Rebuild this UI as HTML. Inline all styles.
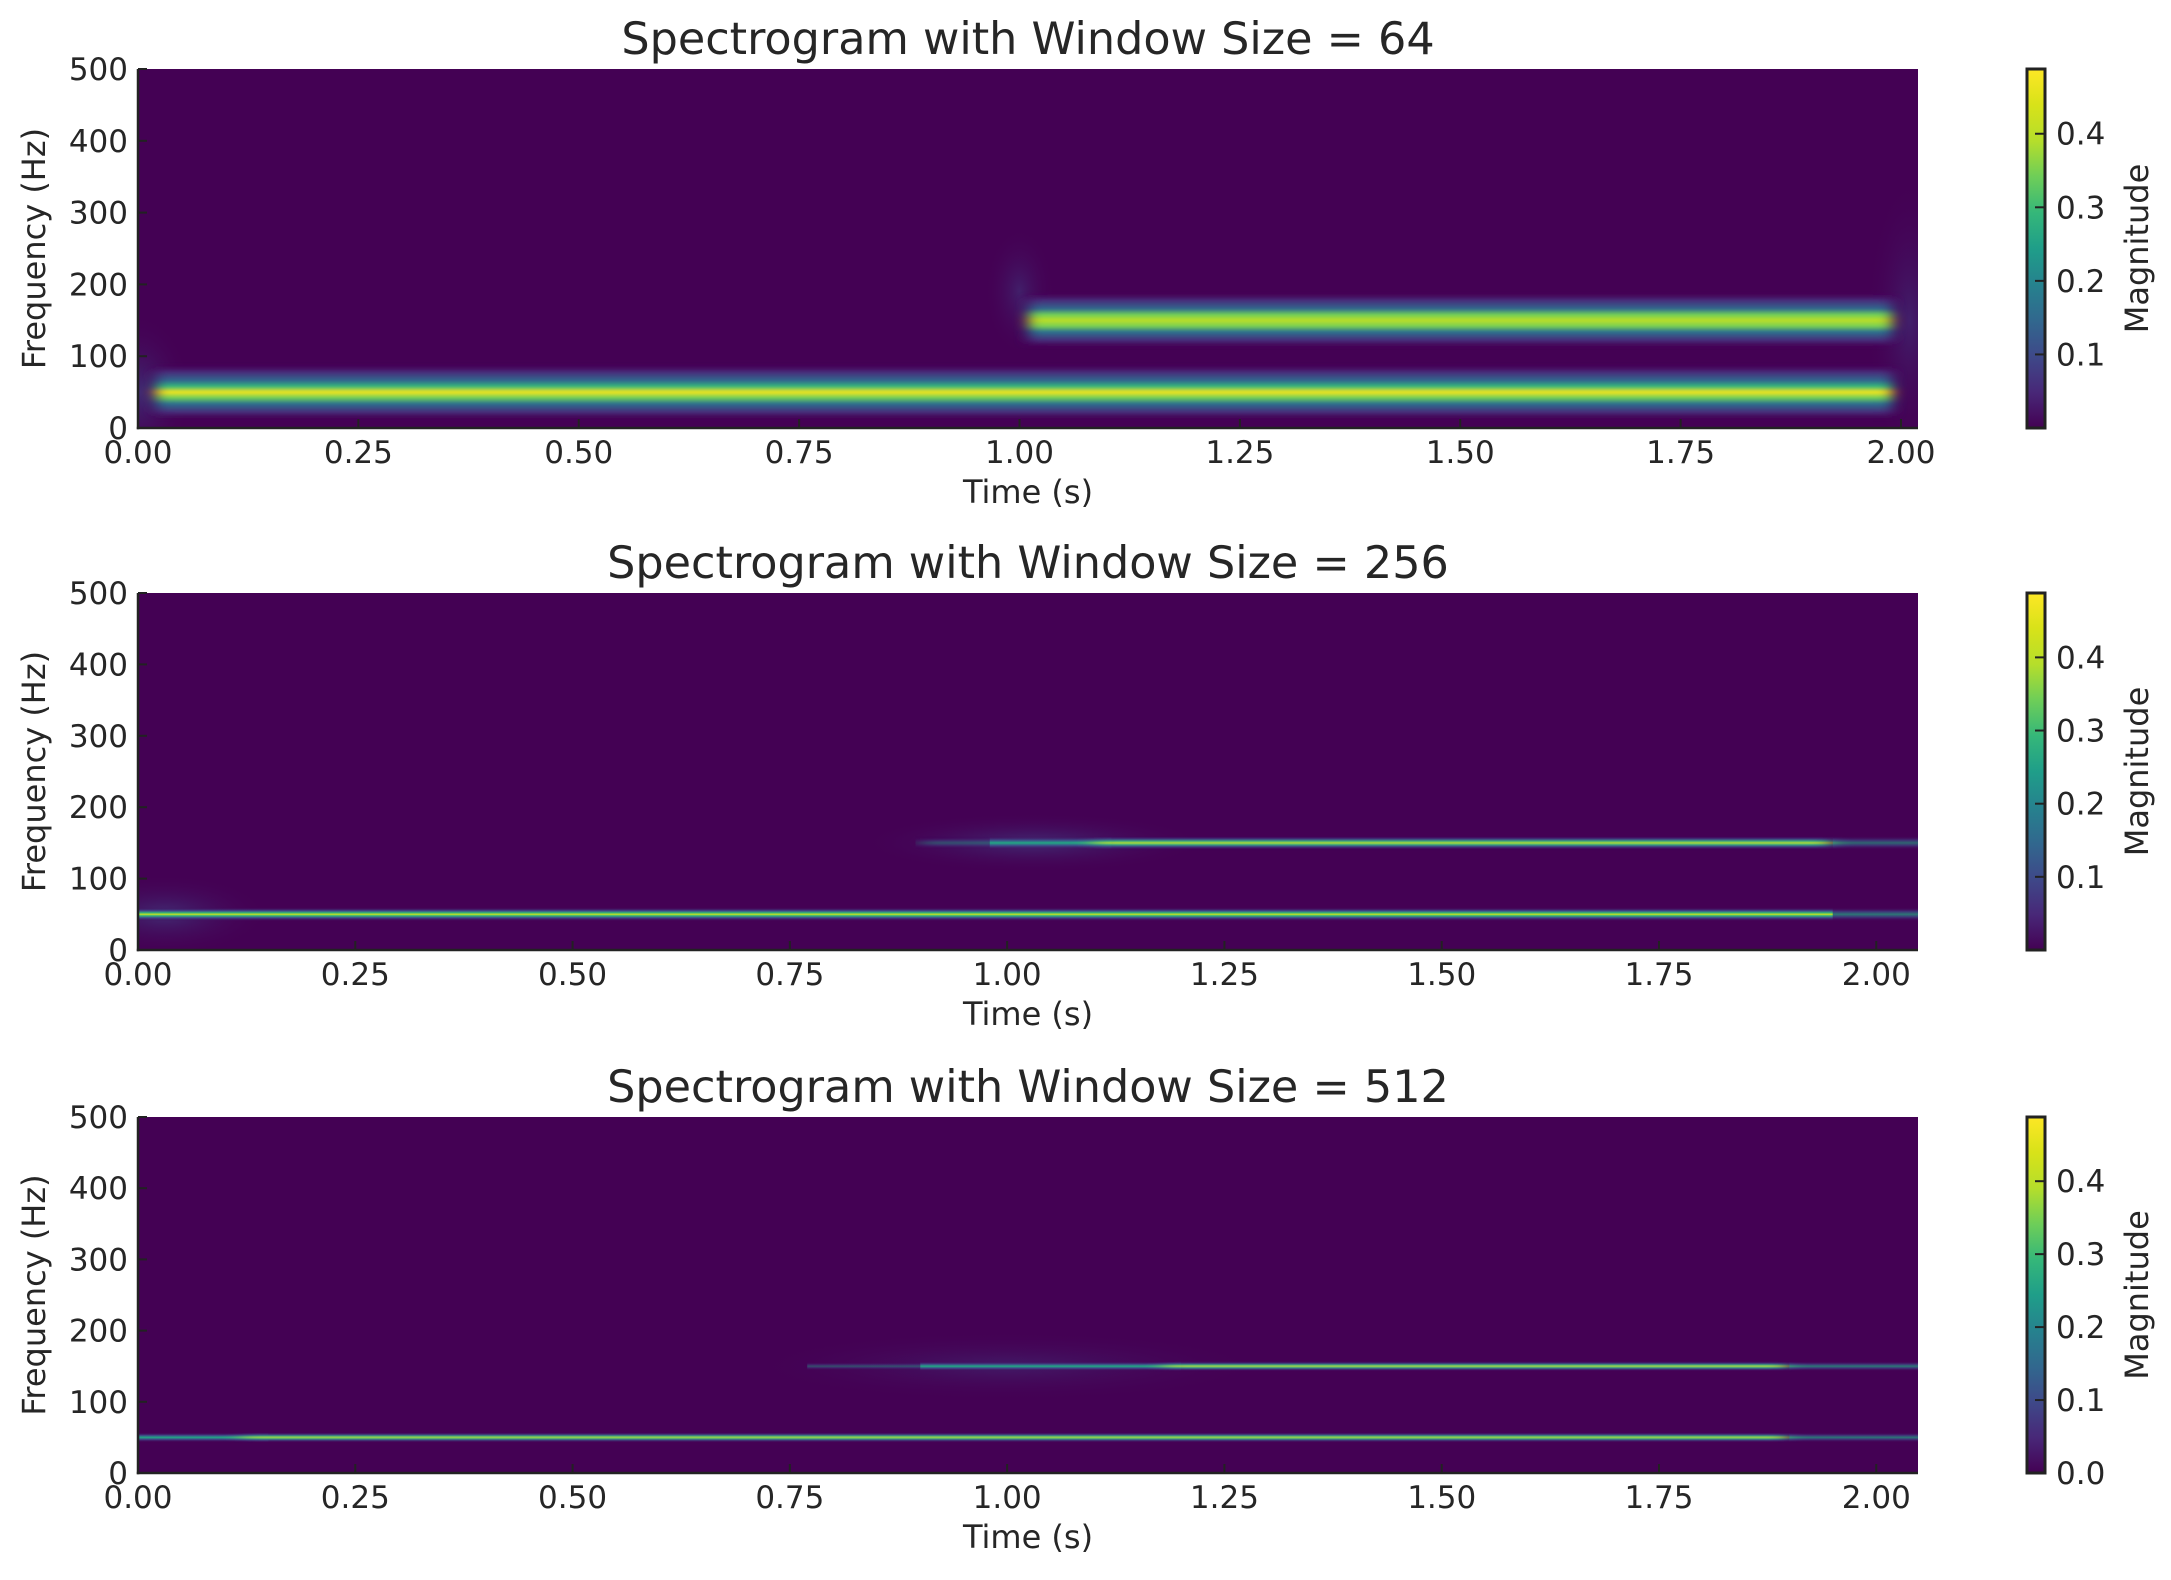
<!DOCTYPE html>
<html><head><meta charset="utf-8">
<style>
html,body{margin:0;padding:0;background:#fff;}
svg{display:block;}
text{font-family:"DejaVu Sans","Liberation Sans",sans-serif;fill:#262626;}
</style></head>
<body>
<svg id="s" width="2171" height="1580" viewBox="0 0 2171 1580" xmlns="http://www.w3.org/2000/svg">
<defs>
<linearGradient id="vir" x1="0" y1="1" x2="0" y2="0">
<stop offset="0" stop-color="#440154"/><stop offset="0.1" stop-color="#482878"/><stop offset="0.2" stop-color="#3e4989"/><stop offset="0.3" stop-color="#31688e"/><stop offset="0.4" stop-color="#26828e"/><stop offset="0.5" stop-color="#1f9e89"/><stop offset="0.6" stop-color="#35b779"/><stop offset="0.7" stop-color="#6ece58"/><stop offset="0.8" stop-color="#b5de2b"/><stop offset="0.9" stop-color="#d8e219"/><stop offset="1" stop-color="#fde725"/>
</linearGradient>
<linearGradient id="b1" x1="0" y1="0" x2="0" y2="1">
<stop offset="0" stop-color="#440154" stop-opacity="0"/><stop offset="0.15" stop-color="#472c7a"/><stop offset="0.3" stop-color="#31688e"/><stop offset="0.4" stop-color="#35b779"/><stop offset="0.5" stop-color="#f2e51d"/><stop offset="0.6" stop-color="#6ece58"/><stop offset="0.7" stop-color="#2c728e"/><stop offset="0.85" stop-color="#472c7a"/><stop offset="1" stop-color="#440154" stop-opacity="0"/>
</linearGradient>
<linearGradient id="b2" x1="0" y1="0" x2="0" y2="1">
<stop offset="0" stop-color="#440154" stop-opacity="0"/><stop offset="0.15" stop-color="#472c7a"/><stop offset="0.3" stop-color="#31688e"/><stop offset="0.4" stop-color="#6ece58"/><stop offset="0.5" stop-color="#bade28"/><stop offset="0.6" stop-color="#7ad151"/><stop offset="0.7" stop-color="#2c728e"/><stop offset="0.85" stop-color="#472c7a"/><stop offset="1" stop-color="#440154" stop-opacity="0"/>
</linearGradient>
<linearGradient id="thin" x1="0" y1="0" x2="0" y2="1">
<stop offset="0" stop-color="#440154" stop-opacity="0"/><stop offset="0.25" stop-color="#3e4989"/><stop offset="0.4" stop-color="#35b779"/><stop offset="0.5" stop-color="#c8e020"/><stop offset="0.6" stop-color="#35b779"/><stop offset="0.75" stop-color="#3e4989"/><stop offset="1" stop-color="#440154" stop-opacity="0"/>
</linearGradient>
<linearGradient id="thinT" x1="0" y1="0" x2="0" y2="1">
<stop offset="0" stop-color="#440154" stop-opacity="0"/><stop offset="0.3" stop-color="#3e4989"/><stop offset="0.5" stop-color="#22a884"/><stop offset="0.7" stop-color="#3e4989"/><stop offset="1" stop-color="#440154" stop-opacity="0"/>
</linearGradient>
<radialGradient id="glow" cx="0.5" cy="0.5" r="0.5">
<stop offset="0" stop-color="#3e4989" stop-opacity="0.6"/><stop offset="1" stop-color="#440154" stop-opacity="0"/>
</radialGradient>
<filter id="bl1" x="-5%" y="-50%" width="110%" height="200%"><feGaussianBlur stdDeviation="7 1"/></filter>
<filter id="bl2" x="-5%" y="-50%" width="110%" height="200%"><feGaussianBlur stdDeviation="10 0.5"/></filter>
<clipPath id="c1"><rect x="138" y="69" width="1780" height="359"/></clipPath>
<clipPath id="c2"><rect x="138" y="593" width="1780" height="357"/></clipPath>
<clipPath id="c3"><rect x="138" y="1117" width="1780" height="356"/></clipPath>
</defs>
<g id="root"></g>
</svg>
<script>
const root=document.getElementById('root');
let h='';
const L=138,R=1918,W=1780;
function panel(top,bot,xmax,title,zeroLbl,clip,content){
  const H=bot-top;
  const px=t=>L+t/xmax*W, py=f=>top+(500-f)/500*H;
  h+=`<rect x="${L}" y="${top}" width="${W}" height="${H}" fill="#440154"/>`;
  h+=`<g clip-path="url(#${clip})">${content(px,py)}</g>`;
  h+=`<line x1="${L}" y1="${top}" x2="${L}" y2="${bot+1.2}" stroke="#222" stroke-width="2.5"/>`;
  h+=`<line x1="${L-1.2}" y1="${bot}" x2="${R}" y2="${bot}" stroke="#222" stroke-width="2.5"/>`;
  for(let i=0;i<=8;i++){const t=i*0.25;const x=px(t);
    h+=`<line x1="${x}" y1="${bot}" x2="${x}" y2="${bot-9}" stroke="#222" stroke-width="2"/>`;
    h+=`<text x="${x}" y="${bot+35}" font-size="31" text-anchor="middle">${t.toFixed(2)}</text>`;}
  for(let f=0;f<=500;f+=100){const y=py(f);
    h+=`<line x1="${L}" y1="${y}" x2="${L+9}" y2="${y}" stroke="#222" stroke-width="2"/>`;
    h+=`<text x="${L-10}" y="${y+11}" font-size="31" text-anchor="end">${f}</text>`;}
  h+=`<text x="${(L+R)/2}" y="${bot+75}" font-size="32" text-anchor="middle">Time (s)</text>`;
  h+=`<text transform="translate(45 ${(top+bot)/2}) rotate(-90)" font-size="32" text-anchor="middle">Frequency (Hz)</text>`;
  h+=`<text x="${(L+R)/2}" y="${top-15}" font-size="44.5" text-anchor="middle" fill="#333">${title}</text>`;
  const cx=2027,cw=18;
  h+=`<rect x="${cx}" y="${top}" width="${cw}" height="${H}" fill="url(#vir)" stroke="#222" stroke-width="3"/>`;
  const vmax=0.488;
  const vals=zeroLbl?[0,0.1,0.2,0.3,0.4]:[0.1,0.2,0.3,0.4];
  for(const v of vals){const y=bot-v/vmax*H;
    if(v>0)h+=`<line x1="${cx+cw}" y1="${y}" x2="${cx+cw-10}" y2="${y}" stroke="#222" stroke-width="2"/>`;
    h+=`<text x="${cx+29}" y="${y+11}" font-size="31">${v.toFixed(1)}</text>`;}
  h+=`<text transform="translate(2148 ${(top+bot)/2}) rotate(-90)" font-size="32" text-anchor="middle">Magnitude</text>`;
}
panel(69,428,2.0193,'Spectrogram with Window Size = 64',false,'c1',(px,py)=>{
  let s='';
  s+=`<ellipse cx="${px(0)}" cy="${py(50)}" rx="${px(0.06)-px(0)}" ry="${py(0)-py(110)}" fill="url(#glow)"/>`;
  s+=`<ellipse cx="${px(1.0)}" cy="${py(190)}" rx="${px(0.04)-px(0)}" ry="${py(0)-py(90)}" fill="url(#glow)" opacity="0.7"/>`;
  s+=`<ellipse cx="${px(2.01)}" cy="${py(150)}" rx="${px(0.05)-px(0)}" ry="${py(0)-py(200)}" fill="url(#glow)" opacity="0.7"/>`;
  s+=`<rect x="${px(0.02)}" y="${py(90)}" width="${px(1.99)-px(0.02)}" height="${py(10)-py(90)}" fill="url(#b1)" filter="url(#bl1)"/>`;
  s+=`<rect x="${px(1.01)}" y="${py(190)}" width="${px(1.99)-px(1.01)}" height="${py(110)-py(190)}" fill="url(#b2)" filter="url(#bl1)"/>`;
  return s;});
panel(593,950,2.048,'Spectrogram with Window Size = 256',false,'c2',(px,py)=>{
  let s='';
  s+=`<ellipse cx="${px(1.03)}" cy="${py(150)}" rx="${px(0.2)-px(0)}" ry="30" fill="url(#glow)"/>`;
  s+=`<ellipse cx="${px(0.03)}" cy="${py(50)}" rx="${px(0.12)-px(0)}" ry="40" fill="url(#glow)"/>`;
  s+=`<rect x="${px(0)}" y="${py(50)-7}" width="${px(1.95)-px(0)}" height="14" fill="url(#thin)"/>`;
  s+=`<rect x="${px(1.95)}" y="${py(50)-7}" width="${px(2.05)-px(1.95)}" height="14" fill="url(#thinT)" opacity="0.7"/>`;
  s+=`<rect x="${px(0.9)}" y="${py(150)-6}" width="${px(1.0)-px(0.9)}" height="12" fill="url(#thinT)" opacity="0.45" filter="url(#bl2)"/>`;
  s+=`<rect x="${px(0.98)}" y="${py(150)-7}" width="${px(1.12)-px(0.98)}" height="14" fill="url(#thinT)"/>`;
  s+=`<rect x="${px(1.1)}" y="${py(150)-7}" width="${px(1.95)-px(1.1)}" height="14" fill="url(#thin)" filter="url(#bl2)"/>`;
  s+=`<rect x="${px(1.95)}" y="${py(150)-7}" width="${px(2.05)-px(1.95)}" height="14" fill="url(#thinT)" opacity="0.6"/>`;
  return s;});
panel(1117,1473,2.048,'Spectrogram with Window Size = 512',true,'c3',(px,py)=>{
  let s='';
  s+=`<ellipse cx="${px(1.0)}" cy="${py(150)}" rx="${px(0.3)-px(0)}" ry="35" fill="url(#glow)" opacity="0.6"/>`;
  s+=`<rect x="${px(0)}" y="${py(50)-5}" width="${px(0.15)-px(0)}" height="10" fill="url(#thinT)"/>`;
  s+=`<rect x="${px(0.12)}" y="${py(50)-5}" width="${px(1.9)-px(0.12)}" height="10" fill="url(#thin)" filter="url(#bl2)"/>`;
  s+=`<rect x="${px(1.9)}" y="${py(50)-5}" width="${px(2.05)-px(1.9)}" height="10" fill="url(#thinT)" opacity="0.7"/>`;
  s+=`<rect x="${px(0.77)}" y="${py(150)-4}" width="${px(0.9)-px(0.77)}" height="8" fill="url(#thinT)" opacity="0.45"/>`;
  s+=`<rect x="${px(0.9)}" y="${py(150)-5}" width="${px(1.2)-px(0.9)}" height="10" fill="url(#thinT)"/>`;
  s+=`<rect x="${px(1.18)}" y="${py(150)-5}" width="${px(1.9)-px(1.18)}" height="10" fill="url(#thin)" filter="url(#bl2)"/>`;
  s+=`<rect x="${px(1.9)}" y="${py(150)-5}" width="${px(2.05)-px(1.9)}" height="10" fill="url(#thinT)" opacity="0.7"/>`;
  return s;});
root.innerHTML=h;
</script>
</body></html>
